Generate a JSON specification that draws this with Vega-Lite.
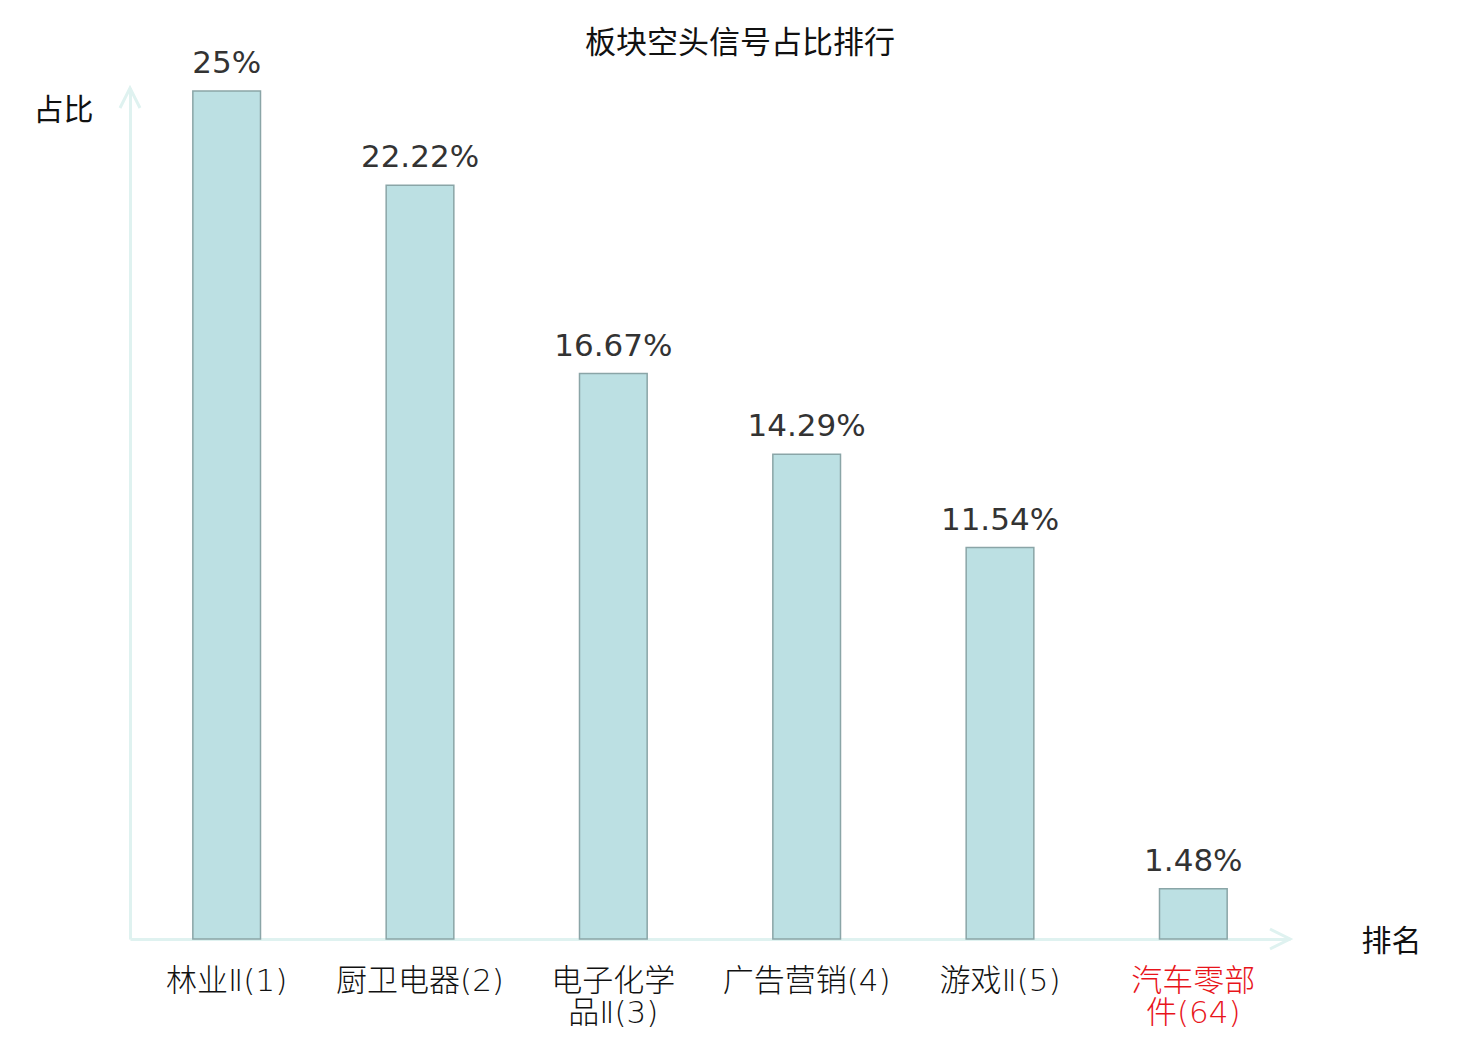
{
  "$schema": "https://vega.github.io/schema/vega-lite/v6.json",
  "autosize": "none",
  "padding": {"left": 130, "top": 88, "right": 190, "bottom": 101},
  "width": 1160,
  "height": 851,
  "title": {
    "text": "板块空头信号占比排行",
    "font": "Noto Sans CJK SC",
    "fontSize": 31,
    "fontWeight": "normal",
    "color": "#111",
    "anchor": "middle",
    "dx": 30,
    "dy": 42,
    "offset": 30
  },
  "data": {
    "values": [
      {"sector": "林业Ⅱ(1)", "ratio": 0.25},
      {"sector": "厨卫电器(2)", "ratio": 0.2222},
      {"sector": "电子化学品Ⅱ(3)", "ratio": 0.1667},
      {"sector": "广告营销(4)", "ratio": 0.1429},
      {"sector": "游戏Ⅱ(5)", "ratio": 0.1154},
      {"sector": "汽车零部件(64)", "ratio": 0.0148}
    ]
  },
  "layer": [
    {
      "mark": {"type": "bar", "fill": "#bce0e3", "stroke": "#8aa5a7", "strokeWidth": 1.5},
      "encoding": {
        "x": {
          "field": "sector",
          "type": "nominal",
          "sort": null,
          "scale": {"paddingInner": 0.65, "paddingOuter": 0.325},
          "axis": {
            "title": "排名",
            "titleFont": "Noto Sans CJK SC",
            "titleX": 1261,
            "titleY": 2,
            "titleAlign": "center",
            "titleBaseline": "middle",
            "titleFontSize": 30,
            "titleFontWeight": "normal",
            "titleColor": "#111",
            "labelFont": "DejaVu Sans, Noto Sans CJK SC",
            "labelFontWeight": 300,
            "labelAngle": 0,
            "labelFontSize": 31,
            "labelPadding": 27,
            "labelLineHeight": 32,
            "labelLimit": 400,
            "labelOverlap": false,
            "labelColor": {
              "condition": {"test": "datum.value == '汽车零部件(64)'", "value": "#e8141b"},
              "value": "#111"
            },
            "labelExpr": "datum.value == '电子化学品Ⅱ(3)' ? ['电子化学', '品Ⅱ(3)'] : datum.value == '汽车零部件(64)' ? ['汽车零部', '件(64)'] : datum.value",
            "ticks": false,
            "domainColor": "#dff2f0",
            "domainWidth": 3
          }
        },
        "y": {
          "field": "ratio",
          "type": "quantitative",
          "scale": {"domain": [0, 0.2509], "nice": false},
          "axis": {
            "title": "占比",
            "titleFont": "Noto Sans CJK SC",
            "titleAngle": 0,
            "titleX": -67,
            "titleY": 22,
            "titleAlign": "center",
            "titleBaseline": "middle",
            "titleFontSize": 30,
            "titleFontWeight": "normal",
            "titleColor": "#111",
            "labels": false,
            "ticks": false,
            "grid": false,
            "domainColor": "#dff2f0",
            "domainWidth": 3
          }
        }
      }
    },
    {
      "mark": {"type": "text", "baseline": "alphabetic", "dy": -18, "fontSize": 31, "color": "#333"},
      "encoding": {
        "x": {"field": "sector", "type": "nominal", "sort": null},
        "y": {"field": "ratio", "type": "quantitative"},
        "text": {"field": "ratio", "format": ".2~%"}
      }
    },
    {
      "data": {"values": [{"edge": "top"}]},
      "mark": {
        "type": "point",
        "shape": "M-1,2L0,0L1,2",
        "size": 400,
        "filled": false,
        "color": "#dff2f0",
        "strokeWidth": 3,
        "opacity": 1
      },
      "encoding": {
        "x": {"value": 0},
        "y": {"datum": 0.2509, "type": "quantitative"}
      }
    },
    {
      "data": {"values": [{"edge": "right"}]},
      "mark": {
        "type": "point",
        "shape": "M-2,-1L0,0L-2,1",
        "size": 400,
        "filled": false,
        "color": "#dff2f0",
        "strokeWidth": 3,
        "opacity": 1
      },
      "encoding": {
        "x": {"value": "width"},
        "y": {"datum": 0, "type": "quantitative"}
      }
    }
  ],
  "config": {
    "font": "DejaVu Sans",
    "view": {"stroke": null}
  }
}
